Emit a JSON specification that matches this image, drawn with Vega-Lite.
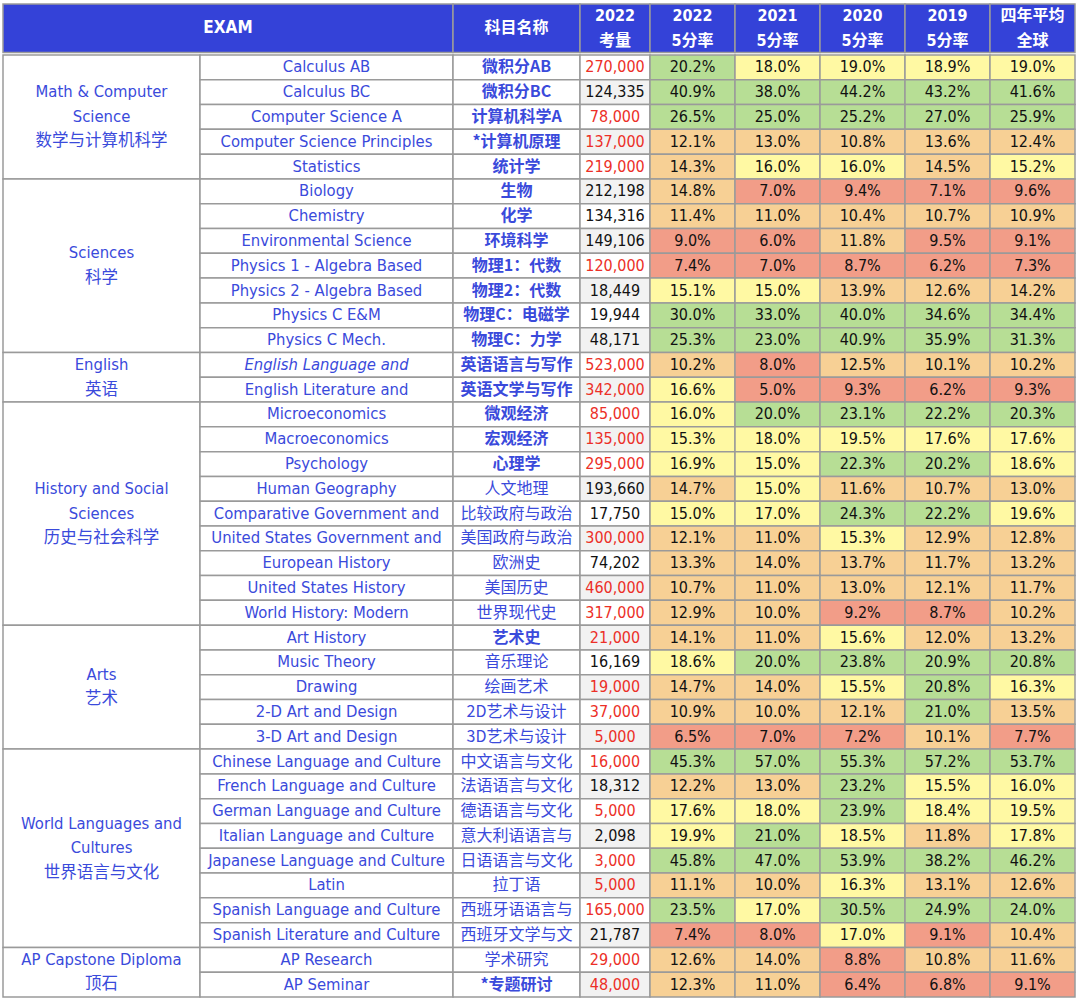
{
  "$schema": "https://vega.github.io/schema/vega-lite/v6.json",
  "padding": {"left": 2, "top": 3, "right": 0, "bottom": 0},
  "background": "white",
  "spacing": 0,
  "config": {
    "view": {"stroke": null},
    "axis": {"disable": true},
    "legend": {"disable": true},
    "concat": {"spacing": 0}
  },
  "datasets": {
    "exams": [
      {"row": 0, "exam": "Calculus AB", "cn": "微积分AB", "count": 270000, "est": true, "key": true, "r2022": 0.202, "r2021": 0.180, "r2020": 0.190, "r2019": 0.189, "avg": 0.190},
      {"row": 1, "exam": "Calculus BC", "cn": "微积分BC", "count": 124335, "est": false, "key": true, "r2022": 0.409, "r2021": 0.380, "r2020": 0.442, "r2019": 0.432, "avg": 0.416},
      {"row": 2, "exam": "Computer Science A", "cn": "计算机科学A", "count": 78000, "est": true, "key": true, "r2022": 0.265, "r2021": 0.250, "r2020": 0.252, "r2019": 0.270, "avg": 0.259},
      {"row": 3, "exam": "Computer Science Principles", "cn": "*计算机原理", "count": 137000, "est": true, "key": true, "r2022": 0.121, "r2021": 0.130, "r2020": 0.108, "r2019": 0.136, "avg": 0.124},
      {"row": 4, "exam": "Statistics", "cn": "统计学", "count": 219000, "est": true, "key": true, "r2022": 0.143, "r2021": 0.160, "r2020": 0.160, "r2019": 0.145, "avg": 0.152},
      {"row": 5, "exam": "Biology", "cn": "生物", "count": 212198, "est": false, "key": true, "r2022": 0.148, "r2021": 0.070, "r2020": 0.094, "r2019": 0.071, "avg": 0.096},
      {"row": 6, "exam": "Chemistry", "cn": "化学", "count": 134316, "est": false, "key": true, "r2022": 0.114, "r2021": 0.110, "r2020": 0.104, "r2019": 0.107, "avg": 0.109},
      {"row": 7, "exam": "Environmental Science", "cn": "环境科学", "count": 149106, "est": false, "key": true, "r2022": 0.090, "r2021": 0.060, "r2020": 0.118, "r2019": 0.095, "avg": 0.091},
      {"row": 8, "exam": "Physics 1 - Algebra Based", "cn": "物理1：代数", "count": 120000, "est": true, "key": true, "r2022": 0.074, "r2021": 0.070, "r2020": 0.087, "r2019": 0.062, "avg": 0.073},
      {"row": 9, "exam": "Physics 2 - Algebra Based", "cn": "物理2：代数", "count": 18449, "est": false, "key": true, "r2022": 0.151, "r2021": 0.150, "r2020": 0.139, "r2019": 0.126, "avg": 0.142},
      {"row": 10, "exam": "Physics C E&M", "cn": "物理C：电磁学", "count": 19944, "est": false, "key": true, "r2022": 0.300, "r2021": 0.330, "r2020": 0.400, "r2019": 0.346, "avg": 0.344},
      {"row": 11, "exam": "Physics C Mech.", "cn": "物理C：力学", "count": 48171, "est": false, "key": true, "r2022": 0.253, "r2021": 0.230, "r2020": 0.409, "r2019": 0.359, "avg": 0.313},
      {"row": 12, "exam": "English Language and", "cn": "英语语言与写作", "count": 523000, "est": true, "key": true, "r2022": 0.102, "r2021": 0.080, "r2020": 0.125, "r2019": 0.101, "avg": 0.102},
      {"row": 13, "exam": "English Literature and", "cn": "英语文学与写作", "count": 342000, "est": true, "key": true, "r2022": 0.166, "r2021": 0.050, "r2020": 0.093, "r2019": 0.062, "avg": 0.093},
      {"row": 14, "exam": "Microeconomics", "cn": "微观经济", "count": 85000, "est": true, "key": true, "r2022": 0.160, "r2021": 0.200, "r2020": 0.231, "r2019": 0.222, "avg": 0.203},
      {"row": 15, "exam": "Macroeconomics", "cn": "宏观经济", "count": 135000, "est": true, "key": true, "r2022": 0.153, "r2021": 0.180, "r2020": 0.195, "r2019": 0.176, "avg": 0.176},
      {"row": 16, "exam": "Psychology", "cn": "心理学", "count": 295000, "est": true, "key": true, "r2022": 0.169, "r2021": 0.150, "r2020": 0.223, "r2019": 0.202, "avg": 0.186},
      {"row": 17, "exam": "Human Geography", "cn": "人文地理", "count": 193660, "est": false, "key": false, "r2022": 0.147, "r2021": 0.150, "r2020": 0.116, "r2019": 0.107, "avg": 0.130},
      {"row": 18, "exam": "Comparative Government and", "cn": "比较政府与政治", "count": 17750, "est": false, "key": false, "r2022": 0.150, "r2021": 0.170, "r2020": 0.243, "r2019": 0.222, "avg": 0.196},
      {"row": 19, "exam": "United States Government and", "cn": "美国政府与政治", "count": 300000, "est": true, "key": false, "r2022": 0.121, "r2021": 0.110, "r2020": 0.153, "r2019": 0.129, "avg": 0.128},
      {"row": 20, "exam": "European History", "cn": "欧洲史", "count": 74202, "est": false, "key": false, "r2022": 0.133, "r2021": 0.140, "r2020": 0.137, "r2019": 0.117, "avg": 0.132},
      {"row": 21, "exam": "United States History", "cn": "美国历史", "count": 460000, "est": true, "key": false, "r2022": 0.107, "r2021": 0.110, "r2020": 0.130, "r2019": 0.121, "avg": 0.117},
      {"row": 22, "exam": "World History: Modern", "cn": "世界现代史", "count": 317000, "est": true, "key": false, "r2022": 0.129, "r2021": 0.100, "r2020": 0.092, "r2019": 0.087, "avg": 0.102},
      {"row": 23, "exam": "Art History", "cn": "艺术史", "count": 21000, "est": true, "key": true, "r2022": 0.141, "r2021": 0.110, "r2020": 0.156, "r2019": 0.120, "avg": 0.132},
      {"row": 24, "exam": "Music Theory", "cn": "音乐理论", "count": 16169, "est": false, "key": false, "r2022": 0.186, "r2021": 0.200, "r2020": 0.238, "r2019": 0.209, "avg": 0.208},
      {"row": 25, "exam": "Drawing", "cn": "绘画艺术", "count": 19000, "est": true, "key": false, "r2022": 0.147, "r2021": 0.140, "r2020": 0.155, "r2019": 0.208, "avg": 0.163},
      {"row": 26, "exam": "2-D Art and Design", "cn": "2D艺术与设计", "count": 37000, "est": true, "key": false, "r2022": 0.109, "r2021": 0.100, "r2020": 0.121, "r2019": 0.210, "avg": 0.135},
      {"row": 27, "exam": "3-D Art and Design", "cn": "3D艺术与设计", "count": 5000, "est": true, "key": false, "r2022": 0.065, "r2021": 0.070, "r2020": 0.072, "r2019": 0.101, "avg": 0.077},
      {"row": 28, "exam": "Chinese Language and Culture", "cn": "中文语言与文化", "count": 16000, "est": true, "key": false, "r2022": 0.453, "r2021": 0.570, "r2020": 0.553, "r2019": 0.572, "avg": 0.537},
      {"row": 29, "exam": "French Language and Culture", "cn": "法语语言与文化", "count": 18312, "est": false, "key": false, "r2022": 0.122, "r2021": 0.130, "r2020": 0.232, "r2019": 0.155, "avg": 0.160},
      {"row": 30, "exam": "German Language and Culture", "cn": "德语语言与文化", "count": 5000, "est": true, "key": false, "r2022": 0.176, "r2021": 0.180, "r2020": 0.239, "r2019": 0.184, "avg": 0.195},
      {"row": 31, "exam": "Italian Language and Culture", "cn": "意大利语语言与", "count": 2098, "est": false, "key": false, "r2022": 0.199, "r2021": 0.210, "r2020": 0.185, "r2019": 0.118, "avg": 0.178},
      {"row": 32, "exam": "Japanese Language and Culture", "cn": "日语语言与文化", "count": 3000, "est": true, "key": false, "r2022": 0.458, "r2021": 0.470, "r2020": 0.539, "r2019": 0.382, "avg": 0.462},
      {"row": 33, "exam": "Latin", "cn": "拉丁语", "count": 5000, "est": true, "key": false, "r2022": 0.111, "r2021": 0.100, "r2020": 0.163, "r2019": 0.131, "avg": 0.126},
      {"row": 34, "exam": "Spanish Language and Culture", "cn": "西班牙语语言与", "count": 165000, "est": true, "key": false, "r2022": 0.235, "r2021": 0.170, "r2020": 0.305, "r2019": 0.249, "avg": 0.240},
      {"row": 35, "exam": "Spanish Literature and Culture", "cn": "西班牙文学与文", "count": 21787, "est": false, "key": false, "r2022": 0.074, "r2021": 0.080, "r2020": 0.170, "r2019": 0.091, "avg": 0.104},
      {"row": 36, "exam": "AP Research", "cn": "学术研究", "count": 29000, "est": true, "key": false, "r2022": 0.126, "r2021": 0.140, "r2020": 0.088, "r2019": 0.108, "avg": 0.116},
      {"row": 37, "exam": "AP Seminar", "cn": "*专题研讨", "count": 48000, "est": true, "key": true, "r2022": 0.123, "r2021": 0.110, "r2020": 0.064, "r2019": 0.068, "avg": 0.091}
    ],
    "cats": [
      {"cat": ["Math & Computer", "Science", "数学与计算机科学"], "start": 0, "end": 5},
      {"cat": ["Sciences", "科学"], "start": 5, "end": 12},
      {"cat": ["English", "英语"], "start": 12, "end": 14},
      {"cat": ["History and Social", "Sciences", "历史与社会科学"], "start": 14, "end": 23},
      {"cat": ["Arts", "艺术"], "start": 23, "end": 28},
      {"cat": ["World Languages and", "Cultures", "世界语言与文化"], "start": 28, "end": 36},
      {"cat": ["AP Capstone Diploma", "顶石"], "start": 36, "end": 38}
    ],
    "heads": [
      {"k": "r2022", "t": ["2022", "5分率"]},
      {"k": "r2021", "t": ["2021", "5分率"]},
      {"k": "r2020", "t": ["2020", "5分率"]},
      {"k": "r2019", "t": ["2019", "5分率"]},
      {"k": "avg", "t": ["四年平均", "全球"]}
    ]
  },
  "vconcat": [
    {
      "spacing": 0,
      "bounds": "flush",
      "hconcat": [
        {
          "width": 450, "height": 48.5,
          "view": {"fill": "#3442D8", "stroke": "#9A9A9A", "strokeWidth": 1.5},
          "data": {"values": [{"t": "EXAM"}]},
          "mark": {"type": "text", "color": "white", "fontWeight": "bold", "fontSize": 17, "font": "DejaVu Sans Condensed, DejaVu Sans, Noto Sans CJK SC", "baseline": "middle"},
          "encoding": {"text": {"field": "t"}}
        },
        {
          "width": 127, "height": 48.5,
          "view": {"fill": "#3442D8", "stroke": "#9A9A9A", "strokeWidth": 1.5},
          "data": {"values": [{"t": "科目名称"}]},
          "mark": {"type": "text", "color": "white", "fontWeight": "bold", "fontSize": 16, "font": "Noto Sans CJK SC", "baseline": "middle"},
          "encoding": {"text": {"field": "t"}}
        },
        {
          "width": 70, "height": 48.5,
          "view": {"fill": "#3442D8", "stroke": "#9A9A9A", "strokeWidth": 1.5},
          "data": {"values": [{"t": ["2022", "考量"]}]},
          "mark": {"type": "text", "color": "white", "fontWeight": "bold", "fontSize": 16, "lineHeight": 25, "dy": -12.5, "font": "DejaVu Sans Condensed, DejaVu Sans, Noto Sans CJK SC", "baseline": "middle"},
          "encoding": {"text": {"field": "t"}}
        },
        {
          "width": 425, "height": 48.5,
          "data": {"name": "heads"},
          "layer": [
            {
              "mark": {"type": "rect", "fill": "#3442D8", "stroke": "#9A9A9A", "strokeWidth": 1.5},
              "encoding": {"x": {"field": "k", "type": "nominal", "sort": null, "scale": {"paddingInner": 0, "paddingOuter": 0}, "axis": null}}
            },
            {
              "mark": {"type": "text", "color": "white", "fontWeight": "bold", "fontSize": 16, "lineHeight": 25, "dy": -12.5, "font": "DejaVu Sans Condensed, DejaVu Sans, Noto Sans CJK SC", "baseline": "middle"},
              "encoding": {
                "x": {"field": "k", "type": "nominal", "sort": null, "axis": null},
                "text": {"field": "t"}
              }
            }
          ]
        }
      ]
    },
    {
      "spacing": 0,
      "bounds": "flush",
      "hconcat": [
        {
          "width": 197, "height": 942,
          "data": {"name": "cats"},
          "transform": [{"calculate": "(datum.start + datum.end) / 2", "as": "mid"}],
          "layer": [
            {
              "mark": {"type": "rect", "fill": "white", "stroke": "#9A9A9A", "strokeWidth": 1.5},
              "encoding": {
                "y": {"field": "start", "type": "quantitative", "scale": {"domain": [0, 38], "reverse": true, "nice": false, "zero": false}, "axis": null},
                "y2": {"field": "end"}
              }
            },
            {
              "mark": {"type": "text", "color": "#3A4ADB", "fontSize": 16.5, "lineHeight": 24.5, "font": "DejaVu Sans Condensed, DejaVu Sans, Noto Sans CJK SC", "baseline": "middle", "dy": {"expr": "-(length(datum.cat) - 1) * 12.25"}},
              "encoding": {
                "y": {"field": "mid", "type": "quantitative", "axis": null},
                "text": {"field": "cat"}
              }
            }
          ]
        },
        {
          "width": 253, "height": 942,
          "data": {"name": "exams"},
          "layer": [
            {
              "mark": {"type": "rect", "fill": "white", "stroke": "#9A9A9A", "strokeWidth": 1.5},
              "encoding": {"y": {"field": "row", "type": "ordinal", "scale": {"paddingInner": 0, "paddingOuter": 0}, "axis": null}}
            },
            {
              "mark": {"type": "text", "color": "#3A4ADB", "fontSize": 16.5, "font": "DejaVu Sans Condensed, DejaVu Sans", "baseline": "middle", "fontStyle": {"expr": "datum.exam === 'English Language and' ? 'italic' : 'normal'"}},
              "encoding": {
                "y": {"field": "row", "type": "ordinal", "axis": null},
                "text": {"field": "exam"}
              }
            }
          ]
        },
        {
          "width": 127, "height": 942,
          "data": {"name": "exams"},
          "layer": [
            {
              "mark": {"type": "rect", "fill": "white", "stroke": "#9A9A9A", "strokeWidth": 1.5},
              "encoding": {"y": {"field": "row", "type": "ordinal", "scale": {"paddingInner": 0, "paddingOuter": 0}, "axis": null}}
            },
            {
              "mark": {"type": "text", "color": "#3A4ADB", "fontSize": 16, "font": "Noto Sans CJK SC", "baseline": "middle", "fontWeight": {"expr": "datum.key ? 'bold' : 'normal'"}},
              "encoding": {
                "y": {"field": "row", "type": "ordinal", "axis": null},
                "text": {"field": "cn"}
              }
            }
          ]
        },
        {
          "width": 70, "height": 942,
          "data": {"name": "exams"},
          "layer": [
            {
              "mark": {"type": "rect", "stroke": "#9A9A9A", "strokeWidth": 1.5},
              "encoding": {
                "y": {"field": "row", "type": "ordinal", "scale": {"paddingInner": 0, "paddingOuter": 0}, "axis": null},
                "fill": {"condition": {"test": "datum.row % 2 == 1", "value": "#F2F2F2"}, "value": "#FFFFFF"}
              }
            },
            {
              "mark": {"type": "text", "fontSize": 16, "font": "DejaVu Sans Condensed, DejaVu Sans", "baseline": "middle"},
              "encoding": {
                "y": {"field": "row", "type": "ordinal", "axis": null},
                "text": {"field": "count", "type": "quantitative", "format": ","},
                "color": {"condition": {"test": "datum.est", "value": "#EC2F27"}, "value": "#111111"}
              }
            }
          ]
        },
        {
          "width": 425, "height": 942,
          "data": {"name": "exams"},
          "transform": [{"fold": ["r2022", "r2021", "r2020", "r2019", "avg"], "as": ["k", "v"]}],
          "layer": [
            {
              "mark": {"type": "rect", "stroke": "#9A9A9A", "strokeWidth": 1.5},
              "encoding": {
                "x": {"field": "k", "type": "nominal", "sort": ["r2022", "r2021", "r2020", "r2019", "avg"], "scale": {"paddingInner": 0, "paddingOuter": 0}, "axis": null},
                "y": {"field": "row", "type": "ordinal", "scale": {"paddingInner": 0, "paddingOuter": 0}, "axis": null},
                "fill": {"field": "v", "type": "quantitative", "scale": {"type": "threshold", "domain": [0.1, 0.15, 0.2], "range": ["#F29D88", "#F7D095", "#FFF9A3", "#B7DE95"]}, "legend": null}
              }
            },
            {
              "mark": {"type": "text", "fontSize": 16, "font": "DejaVu Sans Condensed, DejaVu Sans", "baseline": "middle", "color": "#111111"},
              "encoding": {
                "x": {"field": "k", "type": "nominal", "sort": ["r2022", "r2021", "r2020", "r2019", "avg"], "axis": null},
                "y": {"field": "row", "type": "ordinal", "axis": null},
                "text": {"field": "v", "type": "quantitative", "format": ".1%"}
              }
            }
          ]
        }
      ]
    }
  ]
}
